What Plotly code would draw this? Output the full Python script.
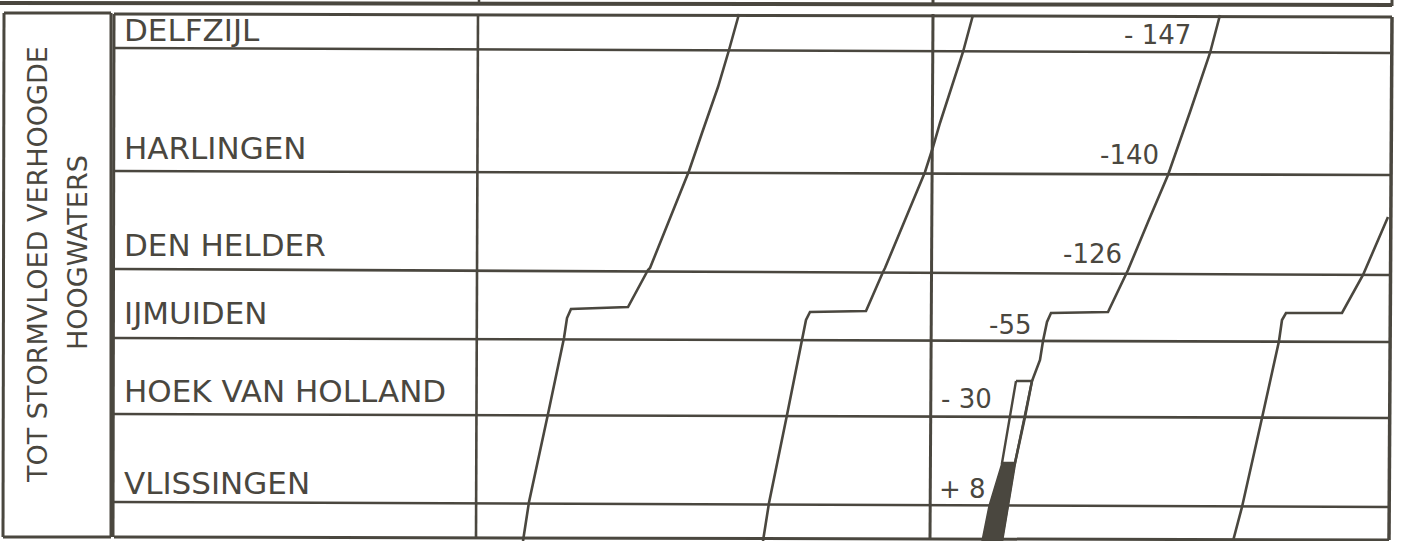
import plotly.graph_objects as go

INK = "#4a473f"
FONT = "DejaVu Sans"

# ---- data (page coordinates, px) ----
stations = ["DELFZIJL", "HARLINGEN", "DEN HELDER", "IJMUIDEN", "HOEK VAN HOLLAND", "VLISSINGEN"]
station_label_y = [30, 148, 245, 313, 391, 483]
station_line_y_left = [48, 171, 269, 338, 414, 502]
station_line_y_right = [53, 175, 275, 342, 418, 507]

level_labels = ["- 147", "-140", "-126", "-55", "- 30", "+ 8"]
level_label_x = [1193, 1161, 1124, 1033, 994, 937]
level_label_y = [35, 155, 254, 325, 399, 489]
level_label_anchor = ["right", "right", "right", "right", "right", "left"]

side_titles = ["TOT STORMVLOED VERHOOGDE", "HOOGWATERS"]
side_title_x = [37, 77]
side_title_y = [265, 253]

# propagation lines (x, y) from Vlissingen (bottom) up to Delfzijl (top)
line_a_x = [523, 529, 548, 564, 567, 571, 628, 648, 650, 670, 689, 702, 718, 729, 739]
line_a_y = [541, 502, 414, 338, 318, 309, 307, 270, 268, 218, 171, 133, 87, 50, 14]
line_b_x = [763, 769, 787, 802, 806, 810, 866, 883, 885, 905, 925, 933, 940, 963, 973]
line_b_y = [541, 503, 415, 339, 320, 312, 311, 272, 268, 220, 172, 147, 123, 52, 15]
line_c_x = [1002, 1008, 1015, 1025, 1032, 1040, 1043, 1047, 1051, 1108, 1128, 1148, 1168, 1190, 1210, 1220]
line_c_y = [541, 506, 463, 417, 381, 360, 341, 322, 313, 312, 270, 222, 175, 112, 53, 15]
line_d_x = [1233, 1242, 1262, 1279, 1282, 1286, 1342, 1363, 1388]
line_d_y = [541, 507, 418, 341, 320, 313, 313, 275, 217]

# level bar at Hoek van Holland / Vlissingen
bar_open_x = [1016, 1032, 1015, 1002, 1016]
bar_open_y = [381, 381, 463, 463, 381]
bar_fill_x = [1002, 1015, 1008, 1002, 982, 989, 1002]
bar_fill_y = [463, 463, 506, 541, 541, 506, 463]

# frame lines: (x0, y0, x1, y1, width)
frame_segments = [
    (0, 3, 1392, 5, 4),          # header bottom
    (479, 0, 479, 4, 2.5),       # header tick
    (933, 0, 933, 5, 3),         # header divider
    (1392, 0, 1392, 6, 3),       # header right
    (4, 13, 111, 13, 3),         # side box top
    (4, 13, 3, 537, 3),          # side box left
    (111, 13, 111, 537, 3),      # side box right
    (3, 537, 111, 537, 3),       # side box bottom
    (114, 14, 1392, 17, 3),      # table top
    (114, 537, 1389, 540, 3),    # table bottom
    (114, 14, 113, 537, 3),      # table left
    (478, 14, 476, 537, 2.6),    # station column right
    (933, 14, 930, 540, 3),      # middle divider
    (1392, 17, 1389, 540, 3.5),  # table right
]

fig = go.Figure()

for x0, y0, x1, y1, w in frame_segments:
    fig.add_trace(go.Scatter(x=[x0, x1], y=[y0, y1], mode="lines",
                             line=dict(color=INK, width=w), hoverinfo="skip"))

for yl, yr in zip(station_line_y_left, station_line_y_right):
    fig.add_trace(go.Scatter(x=[114, 1390], y=[yl, yr], mode="lines",
                             line=dict(color=INK, width=2.6), hoverinfo="skip"))

for xs, ys in [(line_a_x, line_a_y), (line_b_x, line_b_y), (line_c_x, line_c_y), (line_d_x, line_d_y)]:
    fig.add_trace(go.Scatter(x=xs, y=ys, mode="lines",
                             line=dict(color=INK, width=2.6), hoverinfo="skip"))

fig.add_trace(go.Scatter(x=bar_fill_x, y=bar_fill_y, mode="lines", fill="toself",
                         fillcolor=INK, line=dict(color=INK, width=1.5), hoverinfo="skip"))
fig.add_trace(go.Scatter(x=bar_open_x, y=bar_open_y, mode="lines",
                         line=dict(color=INK, width=2.4), hoverinfo="skip"))

for name, y in zip(stations, station_label_y):
    fig.add_annotation(x=122, y=y, text=name, showarrow=False, xanchor="left", yanchor="middle",
                       font=dict(family=FONT, size=31, color=INK))

for t, x, y, a in zip(level_labels, level_label_x, level_label_y, level_label_anchor):
    fig.add_annotation(x=x, y=y, text=t, showarrow=False, xanchor=a, yanchor="middle",
                       font=dict(family=FONT, size=26, color=INK))

for t, x, y in zip(side_titles, side_title_x, side_title_y):
    fig.add_annotation(x=x, y=y, text=t, showarrow=False, textangle=-90,
                       xanchor="center", yanchor="middle",
                       font=dict(family=FONT, size=27, color=INK))

fig.update_layout(
    width=1402, height=541,
    margin=dict(l=0, r=0, t=0, b=0),
    paper_bgcolor="white", plot_bgcolor="white",
    showlegend=False,
    xaxis=dict(range=[0, 1402], visible=False, fixedrange=True),
    yaxis=dict(range=[541, 0], visible=False, fixedrange=True),
)

fig.write_html("out.html", config={"displayModeBar": False},
               post_script="document.body.style.margin='0';document.body.style.overflow='hidden';")
